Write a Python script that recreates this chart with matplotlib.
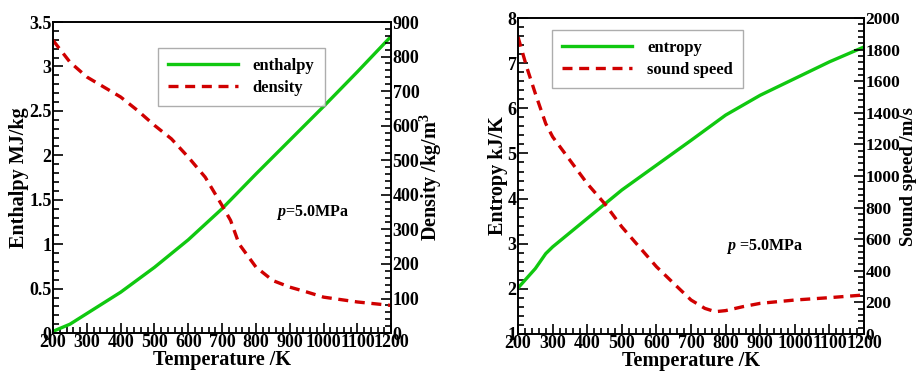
import matplotlib.pyplot as plt
from matplotlib.ticker import MultipleLocator, AutoMinorLocator, FormatStrFormatter

plt.rcParams['font.family'] = 'Liberation Serif'
plt.rcParams['font.weight'] = 'bold'
plt.rcParams['mathtext.fontset'] = 'custom'
plt.rcParams['mathtext.rm'] = 'Liberation Serif:bold'
plt.rcParams['mathtext.it'] = 'Liberation Serif:italic:bold'

# left panel
temp_h = [200, 250, 300, 400, 500, 600, 700, 800, 900, 1000, 1100, 1200]
enthalpy = [0.02, 0.10, 0.22, 0.46, 0.74, 1.05, 1.40, 1.79, 2.17, 2.55, 2.94, 3.34]
temp_d = [200, 250, 300, 400, 450, 500, 550, 600, 650, 700, 725, 750, 800, 850,
          900, 950, 1000, 1100, 1200]
density = [847, 784, 741, 683, 644, 601, 562, 509, 451, 369, 326, 258, 191, 152,
           133, 119, 104, 90, 80]

# right panel
temp_s = [200, 250, 280, 300, 400, 500, 600, 700, 800, 900, 1000, 1100, 1200]
entropy = [2.02, 2.45, 2.78, 2.93, 3.56, 4.19, 4.74, 5.29, 5.85, 6.29, 6.66, 7.03, 7.36]
temp_c = [200, 225, 250, 280, 300, 350, 400, 450, 500, 550, 600, 650, 700, 740,
          770, 800, 850, 900, 1000, 1100, 1200]
sound = [1880, 1690, 1522, 1332, 1248, 1100, 952, 826, 678, 552, 426, 320, 215, 162,
         141, 148, 173, 194, 215, 230, 247]

GREEN = '#10c810'
RED = '#d00000'
LW = 2.4
TICK_FS = 13
LABEL_FS = 14.5


def style(ax):
    ax.tick_params(which='both', direction='in', labelsize=TICK_FS, width=1.2, pad=1)
    ax.tick_params(which='major', length=7)
    ax.tick_params(which='minor', length=4)
    for s in ax.spines.values():
        s.set_linewidth(1.2)


def add_legend(ax, handles, anchor):
    leg = ax.legend(handles=handles, loc='upper left', bbox_to_anchor=anchor,
                    borderaxespad=0, fancybox=False, handlelength=4.2, borderpad=0.6,
                    handletextpad=0.9, labelspacing=0.35,
                    prop={'weight': 'bold', 'size': 12})
    leg.get_frame().set_edgecolor('#999999')
    leg.get_frame().set_linewidth(1.0)
    return leg


fig = plt.figure(figsize=(9.19, 3.73), dpi=100)

# ---- left: enthalpy / density
ax1 = fig.add_axes([0.0577, 0.107, 0.368, 0.834])
ax1b = ax1.twinx()
l1, = ax1.plot(temp_h, enthalpy, color=GREEN, lw=LW, label='enthalpy')
l2, = ax1b.plot(temp_d, density, color=RED, lw=LW, ls=(0, (3, 2)), label='density')
ax1.set_xlim(200, 1200)
ax1.set_ylim(0, 3.5)
ax1b.set_ylim(0, 900)
ax1.xaxis.set_major_locator(MultipleLocator(100))
ax1.xaxis.set_minor_locator(AutoMinorLocator(5))
ax1.yaxis.set_major_locator(MultipleLocator(0.5))
ax1.yaxis.set_minor_locator(AutoMinorLocator(5))
ax1.yaxis.set_major_formatter(FormatStrFormatter('%g'))
ax1b.yaxis.set_major_locator(MultipleLocator(100))
ax1b.yaxis.set_minor_locator(AutoMinorLocator(5))
ax1.set_xlabel('Temperature /K', fontsize=LABEL_FS, fontweight='bold', labelpad=-1)
ax1.set_ylabel('Enthalpy MJ/kg', fontsize=LABEL_FS, fontweight='bold', labelpad=0)
ax1b.set_ylabel('Density /kg/m$^3$', fontsize=LABEL_FS, fontweight='bold', labelpad=-1)
style(ax1)
style(ax1b)
ax1.text(860, 1.36, '$p$=5.0MPa', fontsize=11.5, fontweight='bold', va='center')
add_legend(ax1, [l1, l2], (0.31, 0.916))

# ---- right: entropy / sound speed
ax2 = fig.add_axes([0.5637, 0.1046, 0.3765, 0.847])
ax2b = ax2.twinx()
l3, = ax2.plot(temp_s, entropy, color=GREEN, lw=LW, label='entropy')
l4, = ax2b.plot(temp_c, sound, color=RED, lw=LW, ls=(0, (3, 2)), label='sound speed')
ax2.set_xlim(200, 1200)
ax2.set_ylim(1, 8)
ax2b.set_ylim(0, 2000)
ax2.xaxis.set_major_locator(MultipleLocator(100))
ax2.xaxis.set_minor_locator(AutoMinorLocator(5))
ax2.yaxis.set_major_locator(MultipleLocator(1))
ax2.yaxis.set_minor_locator(AutoMinorLocator(5))
ax2b.yaxis.set_major_locator(MultipleLocator(200))
ax2b.yaxis.set_minor_locator(AutoMinorLocator(5))
ax2.set_xlabel('Temperature /K', fontsize=LABEL_FS, fontweight='bold', labelpad=-1)
ax2.set_ylabel('Entropy kJ/K', fontsize=LABEL_FS, fontweight='bold', labelpad=0)
ax2b.set_ylabel('Sound speed /m/s', fontsize=13.5, fontweight='bold', labelpad=0)
style(ax2)
style(ax2b)
ax2b.tick_params(axis='y', labelsize=12.5)
ax2.text(802, 2.93, '$p$ =5.0MPa', fontsize=11.5, fontweight='bold', va='center')
add_legend(ax2, [l3, l4], (0.098, 0.962))

fig.savefig('out.png', dpi=100)
